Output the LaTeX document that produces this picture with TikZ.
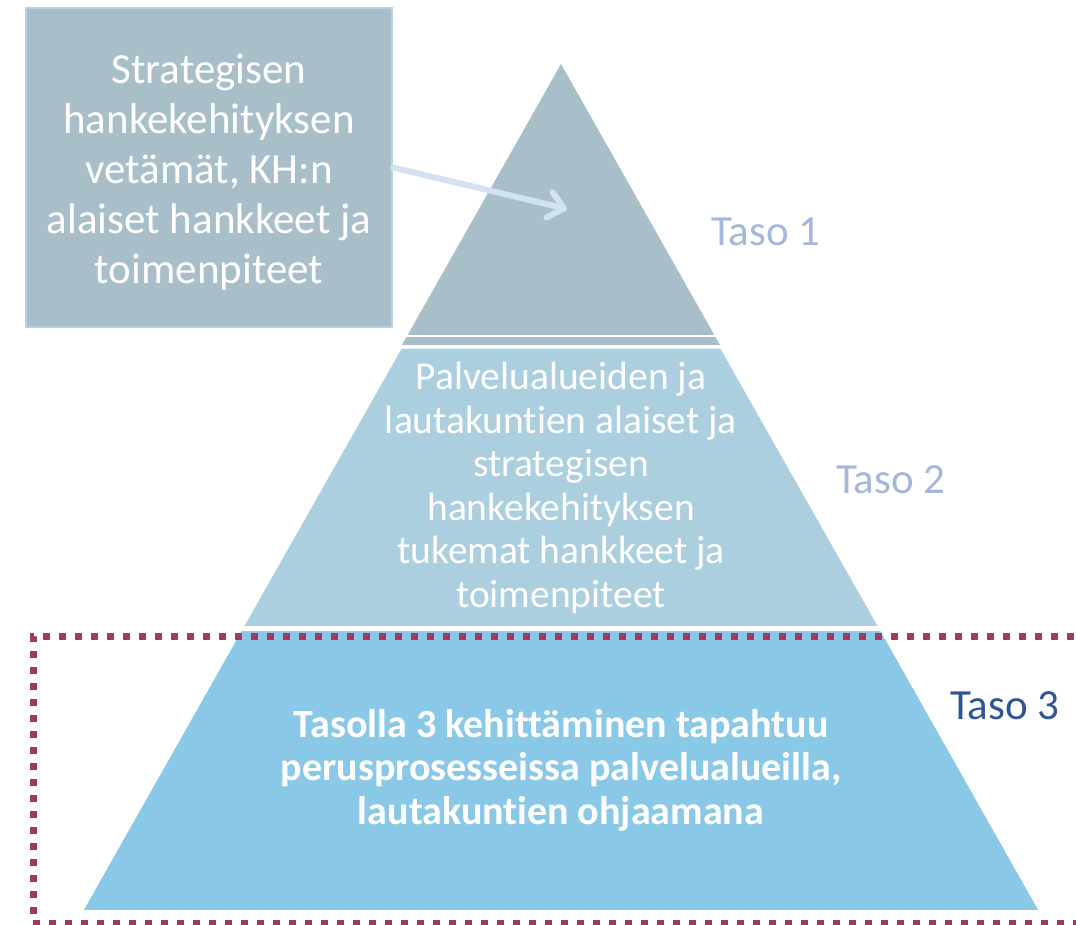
\documentclass[tikz,border=0pt]{standalone}
\usepackage{fontspec}
\setmainfont{Carlito}[Ligatures=NoCommon]
\usepackage{tikz}
\usetikzlibrary{arrows.meta}

\definecolor{tasoyksi}{HTML}{A8BFC9}
\definecolor{tasokaksi}{HTML}{ABCFDF}
\definecolor{tasokolme}{HTML}{89C9E7}
\definecolor{reunus}{HTML}{B5D3E3}
\definecolor{nuolivari}{HTML}{D3E2F3}
\definecolor{vaalea}{HTML}{A5B7DA}
\definecolor{tumma}{HTML}{2F5597}
\definecolor{viini}{HTML}{A8375F}

\begin{document}
\begin{tikzpicture}[x=1pt,y=-1pt,
    kerros/.style={draw=white, line width=2pt},
    valkoteksti/.style={text=white, align=center, font=\fontsize{39.5}{43.5}\selectfont},
    tasonimi/.style={font=\fontsize{43}{50}\selectfont}]
        %RAJAUS
        \clip (0,0) rectangle (1076,925);
        \fill[white] (0,0) rectangle (1076,925);

        %PYRAMIDI
        \fill[tasoyksi] (561,64) -- (720,345) -- (402,345) -- cycle;
        \draw[white, line width=1.5pt] (407,336) -- (715,336);
        \path[kerros, fill=tasokaksi] (401,347.5) -- (721,347.5) -- (879.4,627) -- (242.6,627) -- cycle;
        \path[kerros, fill=tasokolme] (240.9,630) -- (881.1,630) -- (1040,911) -- (82,911) -- cycle;

        %TEKSTIT
        \node[valkoteksti] (taso2teksti) at (561,488) {Palvelualueiden ja\\lautakuntien alaiset ja\\strategisen\\hankekehityksen\\tukemat hankkeet ja\\toimenpiteet};
        \node[valkoteksti, font=\fontsize{40}{43.5}\selectfont\bfseries] (taso3teksti) at (561,770) {Tasolla 3 kehittäminen tapahtuu\\perusprosesseissa palvelualueilla,\\lautakuntien ohjaamana};

        \node[tasonimi, text=vaalea] (taso1) at (766,232) {Taso 1};
        \node[tasonimi, text=vaalea] (taso2) at (891,480) {Taso 2};
        \node[tasonimi, text=tumma] (taso3) at (1005,706) {Taso 3};

        %LAATIKKO JA NUOLI
        \node[fill=tasoyksi, draw=reunus, line width=2.5pt, minimum width=366pt, minimum height=319pt, inner sep=0pt] (laatikko) at (209,167.5) {};
        \node[valkoteksti, font=\fontsize{43}{50}\selectfont] (laatikkoteksti) at (209,172) {Strategisen\\hankekehityksen\\vetämät, KH:n\\alaiset hankkeet ja\\toimenpiteet};
        \coordinate (karki) at (567,209);
        \draw[nuolivari, line width=6pt, line cap=round, -{Straight Barb[round, length=15pt, width=26pt]}] (laatikko.east) -- (karki);

        %KATKOVIIVA
        \draw[viini, line width=7pt, dash pattern=on 7pt off 9pt] (1090,636) -- (33,636) -- (33,923) -- (1090,923);
\end{tikzpicture}
\end{document}
